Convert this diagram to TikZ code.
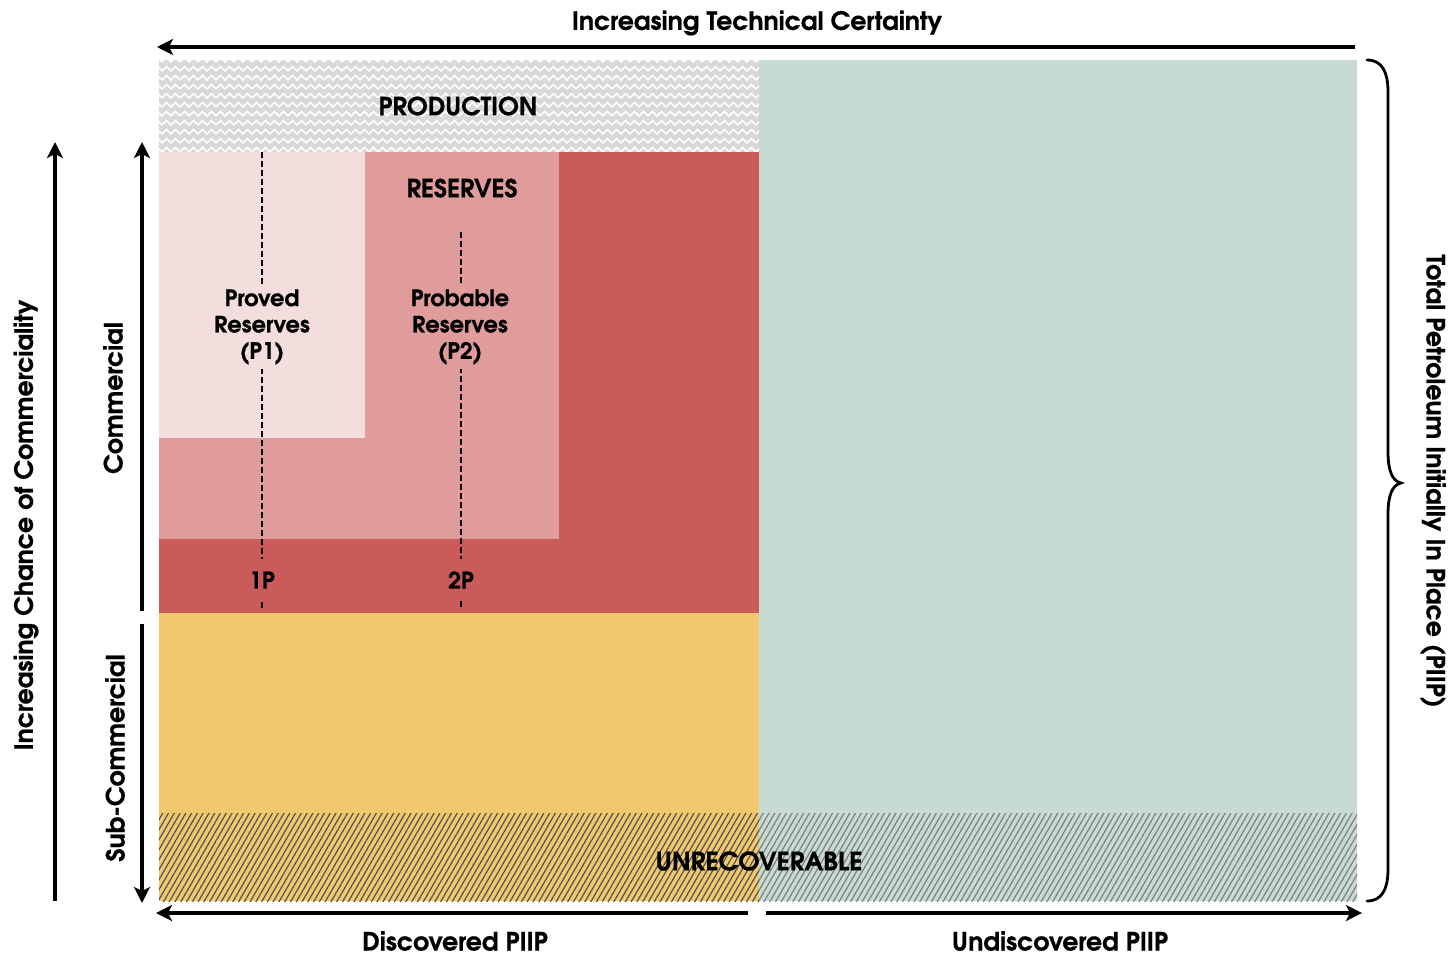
\documentclass[tikz,border=0pt]{standalone}
\usepackage{fontspec}
\setmainfont{texgyreadventor}[Extension=.otf, UprightFont=*-regular, BoldFont=*-bold, BoldFeatures={FakeBold=0.6}]
\usetikzlibrary{arrows.meta,patterns.meta}
\definecolor{cgray}{HTML}{D9D9D9}
\definecolor{cgreen}{HTML}{C7DBD3}
\definecolor{cred}{HTML}{CB5A5A}
\definecolor{cpink}{HTML}{E09B9B}
\definecolor{clight}{HTML}{F4DDDD}
\definecolor{cyellow}{HTML}{F2C86F}
\definecolor{hatchdark}{HTML}{505050}
\definecolor{hatchlight}{HTML}{7E7E7E}
\tikzdeclarepattern{
  name=zigzag,
  type=uncolored,
  bounding box={(-1bp,-1bp) and (19bp,10bp)},
  tile size={(18bp,9bp)},
  code={
    \draw[line width=1.6bp,line join=miter] (0bp,2bp) -- (4.5bp,6.5bp) -- (9bp,2bp) -- (13.5bp,6.5bp) -- (18bp,2bp);
  }
}
\tikzset{
  lbl/.style={font=\bfseries\fontsize{25}{28}\selectfont, text=black, inner sep=1bp},
  inlbl/.style={font=\bfseries\fontsize{22.6}{26.5}\selectfont, text=black, align=center, inner sep=4bp},
  axislbl/.style={font=\bfseries\fontsize{25.3}{28}\selectfont, text=black},
  arr/.style={line width=3.2bp, -{Stealth[length=16bp,width=16bp,inset=4bp]}},
  dsh/.style={line width=1.8bp, dash pattern=on 6bp off 3bp},
}
\begin{document}
\begin{tikzpicture}[x=1bp,y=-1bp]
\useasboundingbox (0,0) rectangle (1451,955);
% regions
\fill[cgreen] (759,60) rectangle (1357,901);
\fill[cgray] (159,60) rectangle (759,152);
\fill[pattern={zigzag}, pattern color=white] (159,60) rectangle (759,152);
\fill[cred] (159,152) rectangle (759,613);
\fill[cpink] (159,152) rectangle (559,539);
\fill[clight] (159,152) rectangle (365,438);
\fill[cyellow] (159,613) rectangle (759,901);
\fill[pattern={Lines[angle=60,distance=5bp,line width=1.2bp]}, pattern color=hatchdark] (159,813) rectangle (759,901);
\fill[pattern={Lines[angle=60,distance=5bp,line width=1.2bp]}, pattern color=hatchlight] (759,813) rectangle (1357,901);
% region labels
\node[lbl] (prod) at (458,106) {PRODUCTION};
\node[lbl] (res) at (462,188) {RESERVES};
\node[lbl, font=\bfseries\fontsize{25.5}{28}\selectfont] (unrec) at (759,861) {UNRECOVERABLE};
% dashed lines
\coordinate (p1top) at (262,152);
\coordinate (p1bot) at (262,609);
\coordinate (p2top) at (461,232);
\coordinate (p2bot) at (461,609);
\draw[dsh] (p1top) -- (p1bot);
\draw[dsh] (p2top) -- (p2bot);
\node[inlbl, fill=clight] (p1) at (262,327) {Proved\\Reserves\\(P1)};
\node[inlbl, fill=cpink] (p2) at (460,327) {Probable\\Reserves\\(P2)};
\node[lbl, fill=cred, inner sep=6bp, minimum height=42bp, font=\bfseries\fontsize{23}{26}\selectfont] (onep) at (262,580) {1P};
\node[lbl, fill=cred, inner sep=6bp, minimum height=42bp, font=\bfseries\fontsize{23}{26}\selectfont] (twop) at (461,580) {2P};
% top arrow
\coordinate (ta1) at (1355,47);
\coordinate (ta2) at (157,47);
\draw[arr] (ta1) -- (ta2);
\node[axislbl] (tlab) at (757,23) {Increasing Technical Certainty};
% left outer arrow
\coordinate (la1) at (55,901);
\coordinate (la2) at (55,142);
\draw[arr] (la1) -- (la2);
\node[axislbl, rotate=90] (llab) at (26,525) {Increasing Chance of Commerciality};
% inner arrows
\coordinate (ca1) at (142,611);
\coordinate (ca2) at (142,142);
\coordinate (sa1) at (142,624);
\coordinate (sa2) at (142,903);
\draw[arr] (ca1) -- (ca2);
\draw[arr] (sa1) -- (sa2);
\node[axislbl, rotate=90] (clab) at (113,398) {Commercial};
\node[axislbl, rotate=90] (slab) at (115,758) {Sub-Commercial};
% bottom arrows
\coordinate (ba1) at (748,913);
\coordinate (ba2) at (156,913);
\coordinate (bb1) at (766,913);
\coordinate (bb2) at (1362,913);
\draw[arr] (ba1) -- (ba2);
\draw[arr] (bb1) -- (bb2);
\node[axislbl] (dlab) at (455,941) {Discovered PIIP};
\node[axislbl] (ulab) at (1060,941) {Undiscovered PIIP};
% brace
\coordinate (br1) at (1367,60);
\coordinate (brt) at (1401,483);
\coordinate (br2) at (1367,901);
\draw[line width=2.8bp, line cap=round] (br1) .. controls (1382,60) and (1388,72) .. (1388,92)
  -- (1388,452) .. controls (1388,470) and (1392,481) .. (brt)
  .. controls (1392,485) and (1388,496) .. (1388,514)
  -- (1388,869) .. controls (1388,889) and (1382,901) .. (br2);
\node[axislbl, rotate=-90] (rlab) at (1433,481) {Total Petroleum Initially In Place (PIIP)};
\end{tikzpicture}
\end{document}
